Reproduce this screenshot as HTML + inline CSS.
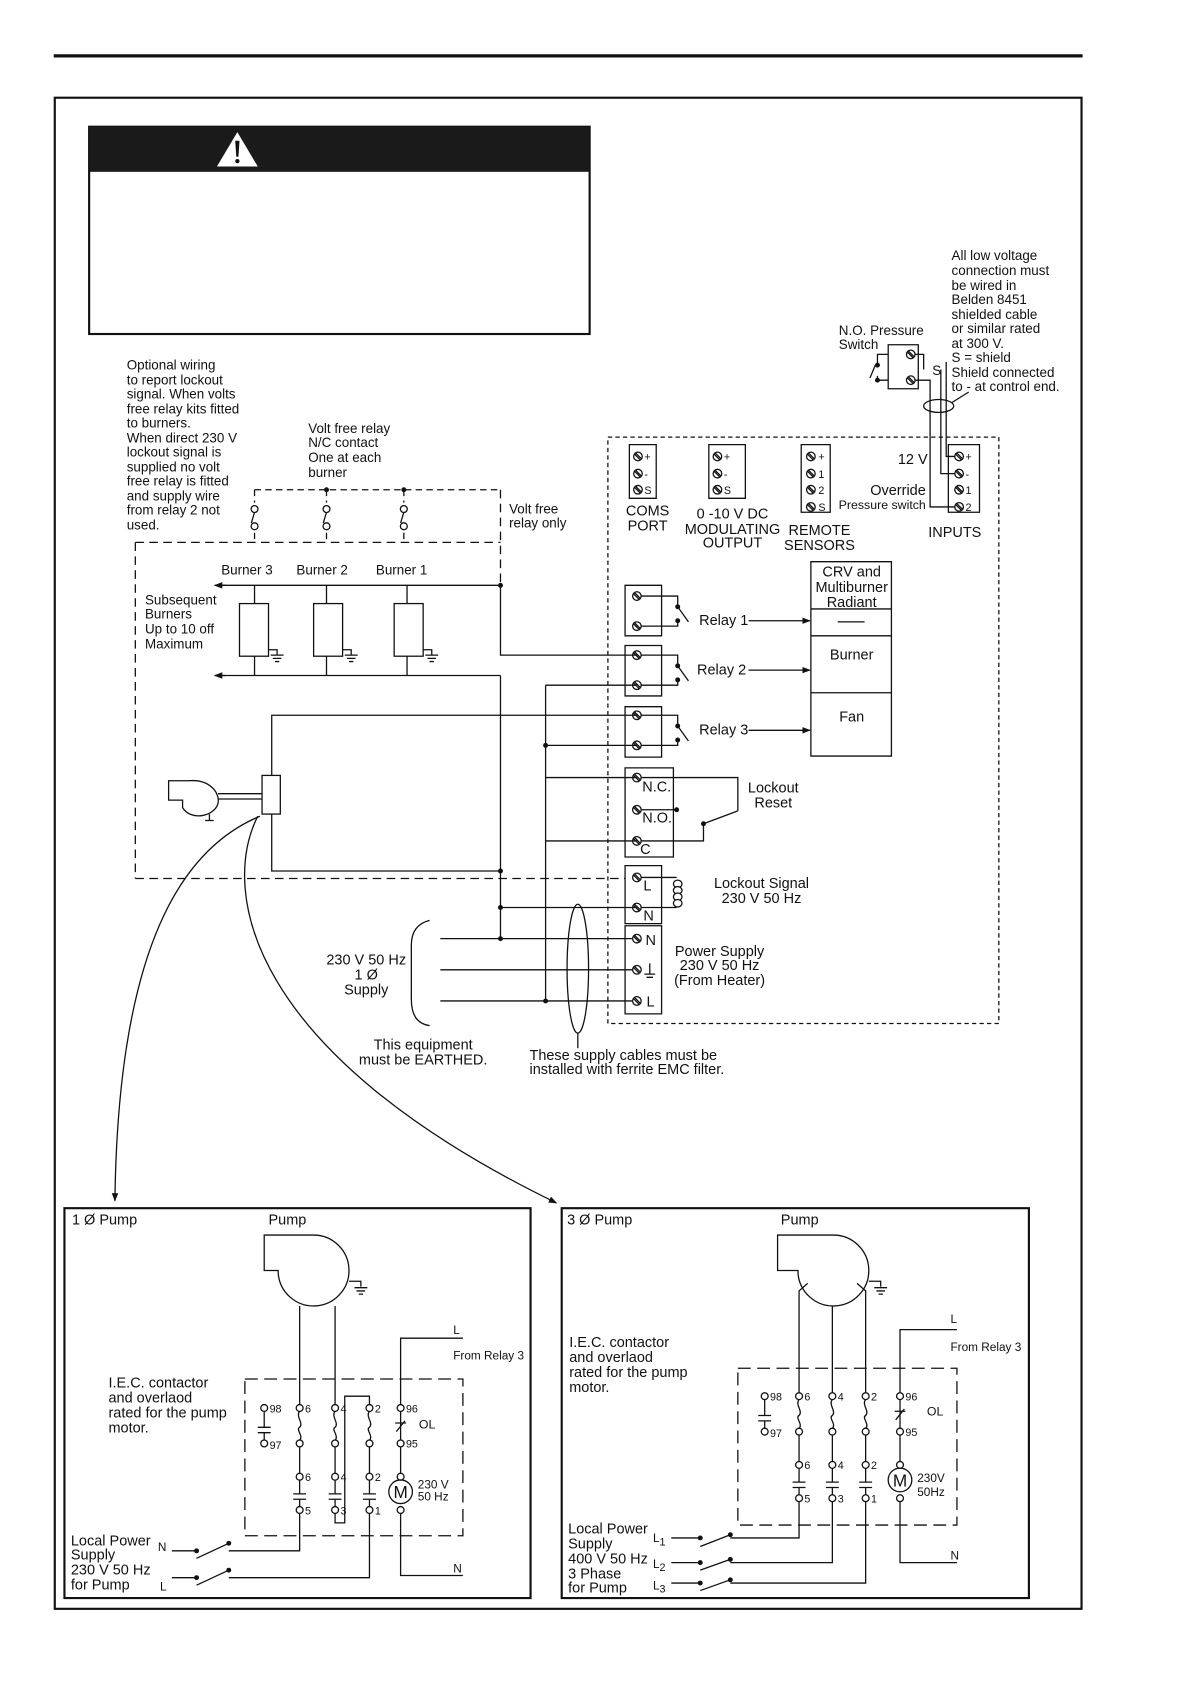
<!DOCTYPE html>
<html><head><meta charset="utf-8"><style>
html,body{margin:0;padding:0;background:#fff}
svg{display:block}
text{font-family:"Liberation Sans",sans-serif;fill:#111;stroke:none}
</style></head><body>
<svg width="1190" height="1684" viewBox="0 0 1108 1568" preserveAspectRatio="none" xmlns="http://www.w3.org/2000/svg" stroke="#111" fill="none" stroke-width="1.2">
<defs>
<marker id="ar" markerWidth="8" markerHeight="8" refX="7" refY="4" orient="auto" markerUnits="userSpaceOnUse"><path d="M0,1 L8,4 L0,7z" fill="#111" stroke="none"/></marker>
<g id="sc"><circle cx="0" cy="0" r="4" fill="#fff"/><path d="M-3,-2L2,3M-2,-3L3,2"/></g>
<circle id="oc" cx="0" cy="0" r="3.2" fill="#fff"/>
<g id="fc"><path d="M0,3C-4,8 4,14 0,18C-4,20 4,26 0,30M0,36V61M0,67V80M-6,80H6M-6,85H6M0,85V92"/><use href="#oc"/><use href="#oc" y="33"/><use href="#oc" y="64"/><use href="#oc" y="95"/></g>
<g id="ax"><path d="M0,3V18M-6,18H6M-6,23H6M0,23V30"/><use href="#oc"/><use href="#oc" y="33"/></g>
<g id="ol"><path d="M0,3V30M-4,22L4,12M-5,14H5M0,36V61"/><use href="#oc"/><use href="#oc" y="33"/><use href="#oc" y="64"/><circle cx="0" cy="78" r="11"/><use href="#oc" y="95"/></g>
<g id="vf"><rect x="-3" y="12" width="6" height="26" fill="#fff" stroke="none"/><use href="#oc" y="18"/><use href="#oc" y="34"/><path d="M0,21L-3,31"/></g>
</defs>
<line x1="50" y1="52" x2="1008" y2="52" stroke-width="3"/>
<rect x="51" y="91" width="956" height="1407" stroke-width="2"/>
<rect x="83" y="118" width="466" height="193" stroke-width="2"/>
<rect x="83" y="118" width="466" height="42" fill="#1a1a1a" stroke="none"/>
<path d="M221,123 L240,155 L202,155Z" fill="#fff" stroke="none"/>
<path d="M219,131 L223,131 L222,146 L220,146Z" fill="#111" stroke="none"/>
<circle cx="221" cy="150" r="2" fill="#111" stroke="none"/>

<path d="M827,321H855V362H827Z"/>
<use href="#sc" x="848" y="330"/><use href="#sc" x="848" y="354"/>
<path d="M827,330H817V340M827,354H817V350M815,340L810,352"/>
<circle cx="817" cy="340" r="2.3" fill="#111" stroke="none"/><circle cx="817" cy="354" r="2.3" fill="#111" stroke="none"/>
<path d="M852,330H860V344M852,354H866V472H889M876,344V441H889M881,337V425H889"/>
<ellipse cx="874" cy="378" rx="14" ry="6"/><path d="M886,375L902,365"/>

<path d="M566,407H930V953H566Z" stroke-dasharray="4,3"/>
<path d="M586,414H611V464H586Z M660,414H694V464H660Z M746,414H773V477H746Z M883,414H912V477H883Z"/>
<use href="#sc" x="594" y="425"/><use href="#sc" x="594" y="441"/><use href="#sc" x="594" y="456"/>
<use href="#sc" x="668" y="425"/><use href="#sc" x="668" y="441"/><use href="#sc" x="668" y="456"/>
<use href="#sc" x="755" y="425"/><use href="#sc" x="755" y="441"/><use href="#sc" x="755" y="456"/><use href="#sc" x="755" y="472"/>
<use href="#sc" x="893" y="425"/><use href="#sc" x="893" y="441"/><use href="#sc" x="893" y="456"/><use href="#sc" x="893" y="472"/>
<path d="M755,523H830V704H755Z M755,567H830 M755,592H830 M755,645H830 M780,579H805"/>

<path d="M582,545H616V592H582Z M593,555H631V565 M593,583H631V578 M631,565L641,579"/>
<path d="M582,601H616V648H582Z M593,610H631V620 M593,638H631V633 M631,620L641,634"/>
<path d="M582,658H616V705H582Z M593,666H631V676 M593,694H631V689 M631,676L641,690"/>
<use href="#sc" x="593" y="555"/><use href="#sc" x="593" y="583"/>
<use href="#sc" x="593" y="610"/><use href="#sc" x="593" y="638"/>
<use href="#sc" x="593" y="666"/><use href="#sc" x="593" y="694"/>
<g fill="#111" stroke="none">
<circle cx="631" cy="565" r="2.3"/><circle cx="631" cy="578" r="2.3"/><circle cx="631" cy="620" r="2.3"/><circle cx="631" cy="633" r="2.3"/><circle cx="631" cy="676" r="2.3"/><circle cx="631" cy="689" r="2.3"/>
<circle cx="630" cy="754" r="2.3"/><circle cx="655" cy="767" r="2.3"/>
<circle cx="466" cy="545" r="2.3"/><circle cx="466" cy="811" r="2.3"/><circle cx="466" cy="845" r="2.3"/><circle cx="466" cy="874" r="2.3"/><circle cx="508" cy="694" r="2.3"/><circle cx="508" cy="932" r="2.3"/>
<circle cx="304" cy="456" r="2.3"/><circle cx="376" cy="456" r="2.3"/>
</g>
<path d="M697,578H754" marker-end="url(#ar)"/><path d="M697,624H754" marker-end="url(#ar)"/><path d="M697,680H754" marker-end="url(#ar)"/>

<path d="M582,715H627V798H582Z M593,724H687V755 M593,754H630 M593,783H655V767 M655,767L687,755"/>
<use href="#sc" x="593" y="724"/><use href="#sc" x="593" y="754"/><use href="#sc" x="593" y="783"/>
<path d="M582,806H616V860H582Z M593,817H630 M593,845H630"/>
<ellipse cx="631" cy="823" rx="4" ry="3.5" fill="#fff"/><ellipse cx="631" cy="829" rx="4" ry="3.5" fill="#fff"/><ellipse cx="631" cy="835" rx="4" ry="3.5" fill="#fff"/><ellipse cx="631" cy="841" rx="4" ry="3.5" fill="#fff"/>
<use href="#sc" x="593" y="817"/><use href="#sc" x="593" y="845"/>
<path d="M410,874H593M410,903H593M410,932H593M466,845H593"/>
<path d="M582,862H616V944H582Z"/>
<use href="#sc" x="593" y="874"/><use href="#sc" x="593" y="903"/><use href="#sc" x="593" y="932"/>
<path d="M605,897V907M600,907H610M602,910H608"/>

<path d="M205,545H466V610H593M466,629V874M205,629H466"/>
<path d="M508,638H593M508,638V932M508,694H593M508,724H593M508,783H593"/>
<path d="M253,722V666H593M253,758V811H466"/>
<path d="M210,545H200" marker-end="url(#ar)"/><path d="M210,629H200" marker-end="url(#ar)"/>

<path d="M237,545V629M304,545V629M379,545V629"/>
<rect x="223" y="562" width="27" height="49" fill="#fff"/><rect x="292" y="562" width="27" height="49" fill="#fff"/><rect x="367" y="562" width="27" height="49" fill="#fff"/>
<path d="M250,605H258V610M252,610H264M254,613H262M256,616H260 M319,605H327V610M321,610H333M323,613H331M325,616H329 M394,605H402V610M396,610H408M398,613H406M400,616H404"/>

<path d="M126,505H466M126,505V818M126,818H582M466,456V545" stroke-dasharray="8,5"/>
<path d="M237,456H466M237,456V505M304,456V505M376,456V505" stroke-dasharray="6,4"/>
<use href="#vf" x="237" y="456"/><use href="#vf" x="304" y="456"/><use href="#vf" x="376" y="456"/>

<path d="M157,727H175C195,725 205,738 203,748C200,760 178,765 170,752V745H157Z"/>
<path d="M203,739H244M203,744H244M195,758V764M191,764H199"/>
<rect x="244" y="722" width="17" height="36" fill="#fff"/>
<path d="M400,857C388,860 383,868 383,880V930C383,945 388,953 400,955"/>
<ellipse cx="538" cy="902" rx="10" ry="60"/><path d="M538,962V976"/>
<path d="M242,760C170,790 110,880 107,1118" marker-end="url(#ar)"/>
<path d="M240,760C205,830 230,980 518,1120" marker-end="url(#ar)"/>

<path d="M60,1125H494V1488H60Z M523,1125H958V1488H523Z" stroke-width="2"/>
<path d="M246,1150H292A33,33 0 1 1 259,1185V1183H246Z" fill="#fff"/>
<path d="M325,1193H336V1198M330,1199H342M332,1202H340M334,1205H338"/>
<path d="M724,1150H776A33,33 0 1 1 743,1185V1183H724Z" fill="#fff"/>
<path d="M809,1193H820V1198M814,1199H826M816,1202H824M818,1205H822"/>

<path d="M228,1284H431V1430H228Z" stroke-dasharray="12,6"/>
<path d="M279,1216V1308M312,1216V1308M312,1409V1418H321V1300H344V1308"/>
<path d="M373,1308V1246H431M373,1409V1467H431"/>
<path d="M160,1444H183M213,1444H279V1409M160,1469H183M213,1469H344V1409M183,1451L213,1437M183,1476L213,1462"/>
<g fill="#111" stroke="none"><circle cx="183" cy="1444" r="2.3"/><circle cx="213" cy="1437" r="2.3"/><circle cx="183" cy="1469" r="2.3"/><circle cx="213" cy="1462" r="2.3"/></g>
<use href="#ax" x="246" y="1311"/><use href="#fc" x="279" y="1311"/><use href="#fc" x="312" y="1311"/><use href="#fc" x="344" y="1311"/><use href="#ol" x="373" y="1311"/>
<path d="M687,1274H891V1420H687Z" stroke-dasharray="12,6"/>
<path d="M744,1297V1202L752,1195M775,1297V1216M806,1297V1202L798,1195"/>
<path d="M838,1297V1238H891M838,1398V1455H891"/>
<path d="M625,1432H652M680,1432H744V1398M625,1455H652M680,1455H775V1398M625,1474H652M680,1474H806V1398M652,1440L680,1429M652,1462L680,1452M652,1481L680,1471"/>
<g fill="#111" stroke="none"><circle cx="652" cy="1432" r="2.3"/><circle cx="680" cy="1429" r="2.3"/><circle cx="652" cy="1455" r="2.3"/><circle cx="680" cy="1452" r="2.3"/><circle cx="652" cy="1474" r="2.3"/><circle cx="680" cy="1471" r="2.3"/></g>
<use href="#ax" x="712" y="1300"/><use href="#fc" x="744" y="1300"/><use href="#fc" x="775" y="1300"/><use href="#fc" x="806" y="1300"/><use href="#ol" x="838" y="1300"/>

<g font-size="10">
<text x="251" y="1315">98</text><text x="251" y="1349">97</text>
<text x="284" y="1315">6</text><text x="284" y="1379">6</text><text x="284" y="1410">5</text>
<text x="317" y="1315">4</text><text x="317" y="1379">4</text><text x="317" y="1410">3</text>
<text x="349" y="1315">2</text><text x="349" y="1379">2</text><text x="349" y="1410">1</text>
<text x="378" y="1315">96</text><text x="378" y="1348">95</text>
<text x="717" y="1304">98</text><text x="717" y="1338">97</text>
<text x="749" y="1304">6</text><text x="749" y="1368">6</text><text x="749" y="1399">5</text>
<text x="780" y="1304">4</text><text x="780" y="1368">4</text><text x="780" y="1399">3</text>
<text x="811" y="1304">2</text><text x="811" y="1368">2</text><text x="811" y="1399">1</text>
<text x="843" y="1304">96</text><text x="843" y="1337">95</text>
<text x="600" y="429">+</text><text x="600" y="445">-</text><text x="600" y="460">S</text>
<text x="674" y="429">+</text><text x="674" y="445">-</text><text x="674" y="460">S</text>
<text x="762" y="429">+</text><text x="762" y="445">1</text><text x="762" y="460">2</text><text x="762" y="476">S</text>
<text x="899" y="429">+</text><text x="899" y="445">-</text><text x="899" y="460">1</text><text x="899" y="476">2</text>
</g>

<g font-size="12.5">
<text x="886" y="242">All low voltage</text><text x="886" y="256">connection must</text><text x="886" y="270">be wired in</text><text x="886" y="283">Belden 8451</text><text x="886" y="297">shielded cable</text><text x="886" y="310">or similar rated</text><text x="886" y="324">at 300 V.</text><text x="886" y="337">S = shield</text><text x="886" y="351">Shield connected</text><text x="886" y="364">to -  at control end.</text>
<text x="781" y="312">N.O. Pressure</text><text x="781" y="325">Switch</text>
<text x="868" y="349">S</text>
<text x="118" y="344">Optional wiring</text><text x="118" y="358">to report lockout</text><text x="118" y="371">signal. When volts</text><text x="118" y="385">free relay kits fitted</text><text x="118" y="398">to burners.</text><text x="118" y="412">When direct 230 V</text><text x="118" y="425">lockout signal is</text><text x="118" y="439">supplied no volt</text><text x="118" y="452">free relay is fitted</text><text x="118" y="466">and supply wire</text><text x="118" y="479">from relay 2 not</text><text x="118" y="493">used.</text>
<text x="287" y="403">Volt free relay</text><text x="287" y="416">N/C contact</text><text x="287" y="430">One at each</text><text x="287" y="444">burner</text>
<text x="474" y="478">Volt free</text><text x="474" y="491">relay only</text>
<text x="206" y="535">Burner 3</text><text x="276" y="535">Burner 2</text><text x="350" y="535">Burner 1</text>
<text x="135" y="563">Subsequent</text><text x="135" y="576">Burners</text><text x="135" y="590">Up to 10 off</text><text x="135" y="604">Maximum</text>
<text x="603" y="480" text-anchor="middle" font-size="13.5">COMS</text><text x="603" y="494" text-anchor="middle" font-size="13.5">PORT</text>
<text x="682" y="483" text-anchor="middle" font-size="13.5">0 -10 V DC</text><text x="682" y="497" text-anchor="middle" font-size="13.5">MODULATING</text><text x="682" y="510" text-anchor="middle" font-size="13.5">OUTPUT</text>
<text x="763" y="498" text-anchor="middle" font-size="13.5">REMOTE</text><text x="763" y="512" text-anchor="middle" font-size="13.5">SENSORS</text>
<text x="836" y="432" font-size="13.5">12 V</text>
<text x="862" y="461" text-anchor="end" font-size="13.5">Override</text>
<text x="862" y="474" text-anchor="end" font-size="11.5">Pressure switch</text>
<text x="889" y="500" text-anchor="middle" font-size="13.5">INPUTS</text>
<text x="793" y="537" text-anchor="middle" font-size="13.5">CRV and</text><text x="793" y="551" text-anchor="middle" font-size="13.5">Multiburner</text><text x="793" y="565" text-anchor="middle" font-size="13.5">Radiant</text>
<text x="793" y="614" text-anchor="middle" font-size="13.5">Burner</text>
<text x="793" y="672" text-anchor="middle" font-size="13.5">Fan</text>
<text x="651" y="582" font-size="13.5">Relay 1</text><text x="649" y="628" font-size="13.5">Relay 2</text><text x="651" y="684" font-size="13.5">Relay 3</text>
<text x="720" y="738" text-anchor="middle" font-size="13.5">Lockout</text><text x="720" y="752" text-anchor="middle" font-size="13.5">Reset</text>
<text x="598" y="737" font-size="13.5">N.C.</text><text x="598" y="766" font-size="13.5">N.O.</text><text x="596" y="795" font-size="13.5">C</text>
<text x="599" y="829" font-size="13.5">L</text><text x="599" y="857" font-size="13.5">N</text>
<text x="709" y="827" text-anchor="middle" font-size="13.5">Lockout Signal</text><text x="709" y="841" text-anchor="middle" font-size="13.5">230 V 50 Hz</text>
<text x="601" y="880" font-size="13.5">N</text><text x="602" y="937" font-size="13.5">L</text>
<text x="670" y="890" text-anchor="middle" font-size="13.5">Power Supply</text><text x="670" y="903" text-anchor="middle" font-size="13.5">230 V 50 Hz</text><text x="670" y="917" text-anchor="middle" font-size="13.5">(From Heater)</text>
<text x="341" y="898" text-anchor="middle" font-size="13.5">230 V 50 Hz</text><text x="341" y="912" text-anchor="middle" font-size="13.5">1 Ø</text><text x="341" y="926" text-anchor="middle" font-size="13.5">Supply</text>
<text x="394" y="977" text-anchor="middle" font-size="13.5">This equipment</text><text x="394" y="991" text-anchor="middle" font-size="13.5">must be EARTHED.</text>
<text x="493" y="987" font-size="13.5">These supply cables must be</text><text x="493" y="1000" font-size="13.5">installed with ferrite EMC filter.</text>
<text x="67" y="1140" font-size="13.5">1 Ø Pump</text><text x="250" y="1140" font-size="13.5">Pump</text>
<text x="101" y="1292" font-size="13.5">I.E.C. contactor</text><text x="101" y="1306" font-size="13.5">and overlaod</text><text x="101" y="1320" font-size="13.5">rated for the pump</text><text x="101" y="1334" font-size="13.5">motor.</text>
<text x="422" y="1242" font-size="11">L</text><text x="422" y="1266" font-size="11">From Relay 3</text><text x="422" y="1464" font-size="11">N</text>
<text x="389" y="1386" font-size="11">230 V</text><text x="389" y="1397" font-size="11">50 Hz</text><text x="390" y="1330" font-size="11.5">OL</text>
<text x="66" y="1439" font-size="13.5">Local Power</text><text x="66" y="1452" font-size="13.5">Supply</text><text x="66" y="1466" font-size="13.5">230 V 50 Hz</text><text x="66" y="1480" font-size="13.5">for Pump</text>
<text x="147" y="1444" font-size="11">N</text><text x="149" y="1481" font-size="11">L</text>
<text x="528" y="1140" font-size="13.5">3 Ø Pump</text><text x="727" y="1140" font-size="13.5">Pump</text>
<text x="530" y="1254" font-size="13.5">I.E.C. contactor</text><text x="530" y="1268" font-size="13.5">and overlaod</text><text x="530" y="1282" font-size="13.5">rated for the pump</text><text x="530" y="1296" font-size="13.5">motor.</text>
<text x="885" y="1232" font-size="11">L</text><text x="885" y="1258" font-size="11">From Relay 3</text><text x="885" y="1452" font-size="11">N</text>
<text x="854" y="1380" font-size="11">230V</text><text x="854" y="1393" font-size="11">50Hz</text><text x="863" y="1318" font-size="11.5">OL</text>
<text x="529" y="1428" font-size="13.5">Local Power</text><text x="529" y="1442" font-size="13.5">Supply</text><text x="529" y="1456" font-size="13.5">400 V 50 Hz</text><text x="529" y="1470" font-size="13.5">3 Phase</text><text x="529" y="1483" font-size="13.5">for Pump</text>
<text x="608" y="1436" font-size="11">L<tspan font-size="10" dy="3">1</tspan></text>
<text x="608" y="1460" font-size="11">L<tspan font-size="10" dy="3">2</tspan></text>
<text x="608" y="1480" font-size="11">L<tspan font-size="10" dy="3">3</tspan></text>
<text x="373" y="1395" font-size="16" text-anchor="middle">M</text>
<text x="838" y="1384" font-size="16" text-anchor="middle">M</text>
</g>
</svg>
</body></html>
